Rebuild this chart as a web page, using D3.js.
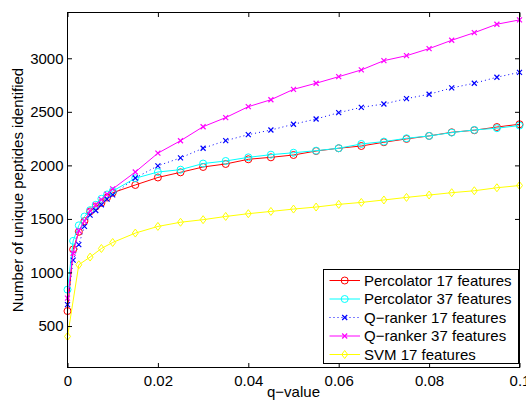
<!DOCTYPE html>
<html>
<head>
<meta charset="utf-8">
<script src="https://cdn.jsdelivr.net/npm/d3@7"></script>
<style>
  html, body { margin: 0; padding: 0; background: #fff; }
  svg { display: block; }
  text { font-family: "Liberation Sans", Arial, Helvetica, sans-serif; fill: #000; }
</style>
</head>
<body>
<svg id="chart" width="526" height="404"></svg>
<script>
// ---------------- data ----------------
const qEarly = [0, 0.00125, 0.0025, 0.00375, 0.005, 0.00625, 0.0075, 0.00875, 0.01];
const qLate = [0.015, 0.02, 0.025, 0.03, 0.035, 0.04, 0.045, 0.05, 0.055, 0.06,
               0.065, 0.07, 0.075, 0.08, 0.085, 0.09, 0.095, 0.1];
const qMain = qEarly.concat(qLate);
const qSVM = [0, 0.0025, 0.005, 0.0075, 0.01].concat(qLate);

const percolator17 = [640, 1215, 1380, 1480, 1570, 1615, 1650, 1700, 1745,
  1817, 1887, 1935, 1985, 2013, 2057, 2075, 2097, 2134, 2160, 2181, 2216, 2247, 2275, 2309, 2328, 2358, 2384];
const percolator37 = [840, 1295, 1440, 1522, 1582, 1632, 1688, 1728, 1760,
  1880, 1938, 1960, 2017, 2041, 2075, 2100, 2118, 2137, 2160, 2200, 2222, 2253, 2275, 2306, 2331, 2347, 2372];
const qranker17 = [700, 1115, 1260, 1430, 1536, 1579, 1632, 1685, 1724,
  1882, 1996, 2070, 2160, 2231, 2287, 2330, 2384, 2433, 2492, 2542, 2573, 2623, 2664, 2723, 2767, 2823, 2869];
const qranker37 = [760, 1180, 1390, 1480, 1575, 1630, 1680, 1730, 1780,
  1938, 2114, 2230, 2361, 2446, 2548, 2613, 2710, 2767, 2828, 2891, 2978, 3024, 3090, 3168, 3239, 3318, 3358];
const svm17 = [403, 1072, 1144, 1224, 1280,
  1368, 1430, 1469, 1493, 1523, 1549, 1570, 1592, 1611, 1636, 1654, 1677, 1701, 1723, 1745, 1763, 1791, 1812];

const seriesNames = ["Percolator 17 features", "Percolator 37 features", "Q\u2212ranker 17 features",
                     "Q\u2212ranker 37 features", "SVM 17 features"];
const xTicks = [0, 0.02, 0.04, 0.06, 0.08, 0.1];
const xTickLabels = ["0", "0.02", "0.04", "0.06", "0.08", "0.1"];
const yTicks = [500, 1000, 1500, 2000, 2500, 3000];
const xLabel = "q\u2212value";
const yLabel = "Number of unique peptides identified";

// ---------------- layout ----------------
const svg = d3.select("#chart");
const L = 67.5, R = 519.5, T = 12.5, B = 367.5;
const x = d3.scaleLinear().domain([0, 0.1]).range([L, R]);
const y = d3.scaleLinear().domain([111, 3432]).range([367.7, 12]);
const FS = 15;

const series = [
  { name: seriesNames[0], q: qMain, v: percolator17, color: "#ff0000", marker: "o", dash: null },
  { name: seriesNames[1], q: qMain, v: percolator37, color: "#00ffff", marker: "o", dash: null },
  { name: seriesNames[2], q: qMain, v: qranker17, color: "#0000ff", marker: "x", dash: "1,3" },
  { name: seriesNames[3], q: qMain, v: qranker37, color: "#ff00ff", marker: "x", dash: null },
  { name: seriesNames[4], q: qSVM, v: svm17, color: "#ffff00", marker: "d", dash: null }
];

function drawMarker(g, type, cx, cy, color) {
  if (type === "o") {
    g.append("circle").attr("cx", cx).attr("cy", cy).attr("r", 3.5)
      .attr("fill", "none").attr("stroke", color).attr("stroke-width", 1);
  } else if (type === "x") {
    const s = 2.5;
    g.append("path")
      .attr("d", `M${cx - s},${cy - s}L${cx + s},${cy + s}M${cx - s},${cy + s}L${cx + s},${cy - s}`)
      .attr("stroke", color).attr("stroke-width", 1.2).attr("fill", "none");
  } else if (type === "d") {
    const w = 3, h = 4;
    g.append("path")
      .attr("d", `M${cx},${cy - h}L${cx + w},${cy}L${cx},${cy + h}L${cx - w},${cy}Z`)
      .attr("stroke", color).attr("stroke-width", 1).attr("fill", "none");
  }
}

// white plot background
svg.append("rect").attr("x", L).attr("y", T).attr("width", R - L).attr("height", B - T).attr("fill", "#fff");

// series
const plot = svg.append("g");
const line = d3.line().x(d => x(d[0])).y(d => y(d[1]));
series.forEach(s => {
  const pts = s.q.map((q, i) => [q, s.v[i]]);
  const g = plot.append("g");
  g.append("path").datum(pts).attr("d", line)
    .attr("fill", "none").attr("stroke", s.color).attr("stroke-width", 1)
    .attr("stroke-dasharray", s.dash);
  pts.forEach(p => drawMarker(g, s.marker, x(p[0]), y(p[1]), s.color));
});

// axes
const axL = d3.axisLeft(y).tickValues(yTicks).tickSize(-4.5).tickPadding(4).tickFormat(d3.format("d"));
const axR = d3.axisRight(y).tickValues(yTicks).tickSize(-4.5).tickFormat("");
const axB = d3.axisBottom(x).tickValues(xTicks).tickSize(-4.5).tickPadding(8)
  .tickFormat((d, i) => xTickLabels[i]);
const axT = d3.axisTop(x).tickValues(xTicks).tickSize(-4.5).tickFormat("");

function styleAxis(g) {
  g.select(".domain").remove();
  g.selectAll("line").attr("stroke", "#000");
  g.selectAll("text").attr("font-size", FS).attr("font-family", "Liberation Sans, Arial, sans-serif").attr("fill", "#000");
}
svg.append("g").attr("transform", `translate(${L},0)`).call(axL).call(styleAxis);
svg.append("g").attr("transform", `translate(${R},0)`).call(axR).call(styleAxis);
svg.append("g").attr("transform", `translate(0,${B})`).call(axB).call(styleAxis);
svg.append("g").attr("transform", `translate(0,${T})`).call(axT).call(styleAxis);

// box
svg.append("rect").attr("x", L).attr("y", T).attr("width", R - L).attr("height", B - T)
  .attr("fill", "none").attr("stroke", "#000").attr("stroke-width", 1);

// axis labels
svg.append("text").attr("x", (L + R) / 2).attr("y", 397).attr("text-anchor", "middle")
  .attr("font-size", FS).text(xLabel);
svg.append("text").attr("transform", `translate(23,${(T + B) / 2}) rotate(-90)`)
  .attr("text-anchor", "middle").attr("font-size", FS).text(yLabel);

// legend
const lg = svg.append("g");
const lx = 323.5, ly = 269.5, lw = 195, lh = 94;
lg.append("rect").attr("x", lx).attr("y", ly).attr("width", lw).attr("height", lh)
  .attr("fill", "#fff").attr("stroke", "#000").attr("stroke-width", 1);
series.forEach((s, i) => {
  const cy = 280.5 + i * 18.5;
  lg.append("line").attr("x1", 329.5).attr("x2", 360).attr("y1", cy).attr("y2", cy)
    .attr("stroke", s.color).attr("stroke-width", 1).attr("stroke-dasharray", s.dash);
  drawMarker(lg, s.marker, 344.7, cy, s.color);
  lg.append("text").attr("x", 364).attr("y", cy).attr("dy", "0.35em")
    .attr("font-size", FS).text(s.name);
});
</script>
</body>
</html>
